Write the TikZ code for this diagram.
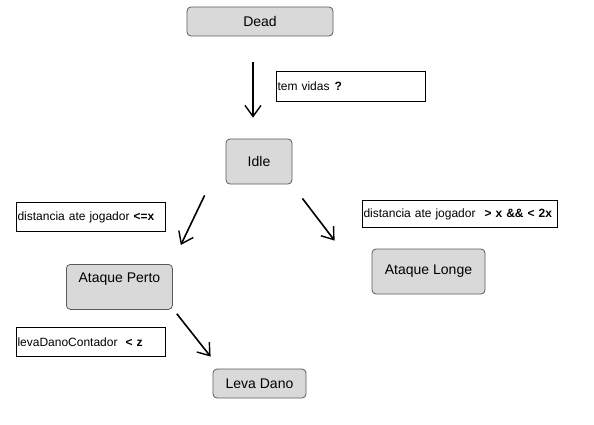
\documentclass[tikz,border=0pt]{standalone}
\usepackage{fontspec}
\setmainfont{Liberation Sans}
\usetikzlibrary{arrows.meta}
\definecolor{cinzaEstado}{RGB}{217,217,217}
\definecolor{bordaEstado}{RGB}{90,90,90}
\tikzset{
  estado/.style={draw=bordaEstado, fill=cinzaEstado, rounded corners=4pt, line width=0.8pt,
    font=\fontsize{14}{16}\selectfont, inner sep=0pt},
  rotulo/.style={draw=black, line width=1pt, anchor=north west, inner xsep=1pt, inner ysep=0pt,
    align=left, font=\fontsize{12}{14}\selectfont},
  seta/.style={line width=1.6pt, -{Straight Barb[length=11pt,width=16pt,line width=1.4pt]}}
}
\begin{document}
\begin{tikzpicture}[x=1pt,y=-1pt]
\useasboundingbox (0,0) rectangle (594,425);
% estados
\node[estado, minimum width=146pt, minimum height=29pt] (dead) at (260,21.5) {Dead};
\node[estado, minimum width=66pt, minimum height=45pt] (idle) at (259,161.5) {Idle};
\node[estado, anchor=north west, minimum width=106pt, text height=15pt, text depth=24pt, inner ysep=3pt] (perto) at (66,264) {Ataque Perto};
\node[estado, minimum width=113pt, minimum height=45pt] (longe) at (428.5,271.5) {Ataque Longe};
\node[estado, minimum width=93pt, minimum height=29pt] (leva) at (259.5,383.5) {Leva Dano};
% condicoes
\node[rotulo, text width=147pt, minimum height=30pt] (lblVidas) at (276,71) {tem vidas\hspace{5pt}\textbf{?}};
\node[rotulo, text width=147pt, minimum height=29pt] (lblPerto) at (16,202) {distancia ate jogador \textbf{<=x}};
\node[rotulo, text width=193pt, minimum height=27pt] (lblLonge) at (362,200) {distancia ate jogador\hspace{9pt}\textbf{> x \&\& < 2x}};
\node[rotulo, text width=147pt, minimum height=29pt] (lblDano) at (16,327) {levaDanoContador\hspace{8pt}\textbf{< z}};
% transicoes
\draw[seta] ([shift={(-7,26)}]dead.south) -- ([shift={(-6,-21)}]idle.north);
\draw[seta] ([shift={(-21,11)}]idle.south west) -- ([shift={(8,-19)}]perto.north east);
\draw[seta] ([shift={(10,14)}]idle.south east) -- ([shift={(-37,-8)}]longe.north west);
\draw[seta] ([shift={(4,4)}]perto.south east) -- ([shift={(-2,-12)}]leva.north west);
\end{tikzpicture}
\end{document}
